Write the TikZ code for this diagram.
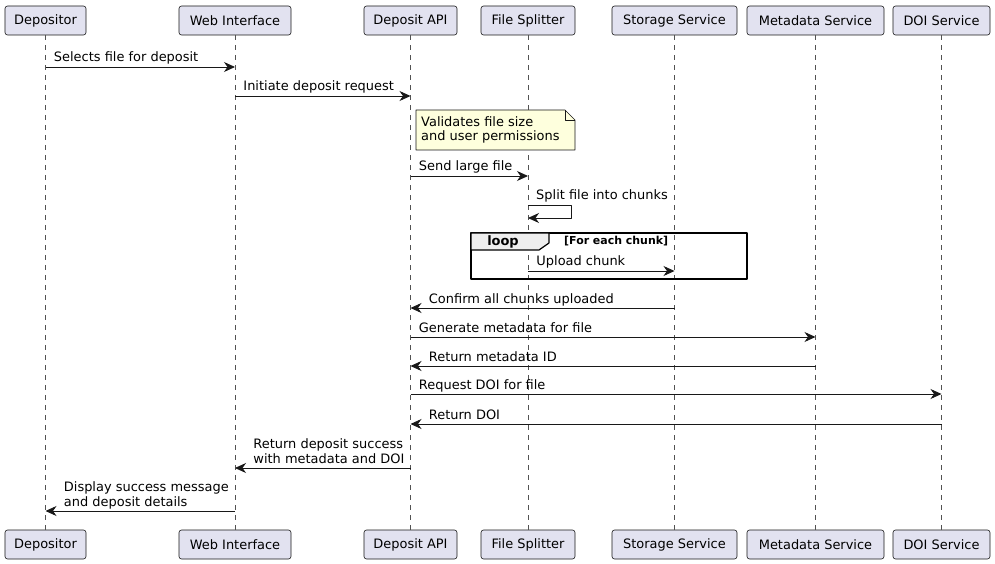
\documentclass[tikz,border=0pt]{standalone}
\usepackage{fontspec}
\setmainfont{DejaVu Sans}
\usetikzlibrary{arrows.meta,positioning}
\definecolor{partfill}{HTML}{E2E2F0}
\definecolor{linecol}{HTML}{181818}
\definecolor{notefill}{HTML}{FEFFDD}
\definecolor{tabfill}{HTML}{EEEEEE}
\tikzset{
  part/.style={draw=linecol, fill=partfill, rounded corners=2.5bp, line width=0.6bp, minimum height=29bp, inner sep=0pt, font=\fontsize{13}{15}\selectfont},
  life/.style={draw=linecol!75, dash pattern=on 5bp off 5bp, line width=0.45bp},
  msg/.style={draw=linecol, line width=0.9bp, -{Stealth[length=11bp,width=10bp,inset=3.5bp]}},
  lbl/.style={font=\fontsize{13}{15}\selectfont, inner sep=0pt, align=left},
  lblr/.style={lbl, anchor=base west, xshift=8bp, yshift=5bp},
  lbll/.style={lbl, anchor=base west, xshift=18bp, yshift=5bp}
}
\begin{document}
\begin{tikzpicture}[x=1bp, y=-1bp, line join=round]
  \useasboundingbox (0,0) rectangle (995,564);
  \node[part, minimum width=81bp] (dep) at (45.5,20.5) {Depositor};
  \node[part, minimum width=112bp] (web) at (235,20.5) {Web Interface};
  \node[part, minimum width=93bp] (api) at (410.5,20.5) {Deposit API};
  \node[part, minimum width=94bp] (spl) at (528,20.5) {File Splitter};
  \node[part, minimum width=125bp] (sto) at (674.5,20.5) {Storage Service};
  \node[part, minimum width=137bp] (met) at (815.5,20.5) {Metadata Service};
  \node[part, minimum width=97bp] (doi) at (941.5,20.5) {DOI Service};
  \node[part, minimum width=81bp] (depb) at (45.5,544.5) {Depositor};
  \node[part, minimum width=112bp] (webb) at (235,544.5) {Web Interface};
  \node[part, minimum width=93bp] (apib) at (410.5,544.5) {Deposit API};
  \node[part, minimum width=94bp] (splb) at (528,544.5) {File Splitter};
  \node[part, minimum width=125bp] (stob) at (674.5,544.5) {Storage Service};
  \node[part, minimum width=137bp] (metb) at (815.5,544.5) {Metadata Service};
  \node[part, minimum width=97bp] (doib) at (941.5,544.5) {DOI Service};
  \draw[life] (dep) -- (depb);
  \draw[life] (web) -- (webb);
  \draw[life] (api) -- (apib);
  \draw[life] (spl) -- (splb);
  \draw[life] (sto) -- (stob);
  \draw[life] (met) -- (metb);
  \draw[life] (doi) -- (doib);
  \draw[msg] (dep |- 0,67) -- (web |- 0,67) node[pos=0, lblr] {Selects file for deposit};
  \draw[msg] (web |- 0,96) -- (api |- 0,96) node[pos=0, lblr] {Initiate deposit request};
  \draw[draw=linecol, fill=notefill, line width=0.6bp] (416,110) -- (565,110) -- (575,120) -- (575,150) -- (416,150) -- cycle;
  \draw[draw=linecol, line width=0.6bp] (565,110) -- (565,120) -- (575,120);
  \node[lbl, anchor=north west] (note) at (421,116) {Validates file size\\and user permissions};
  \draw[msg] (api |- 0,176) -- (spl |- 0,176) node[pos=0, lblr] {Send large file};
  \draw[msg] (spl |- 0,205) -- ++(43,0) -- ++(0,13) -- (spl |- 0,218);
  \node[lbl, anchor=base west] (split) at (536,200) {Split file into chunks};
  \draw[line width=1.5bp] (471,233) rectangle (747,279);
  \draw[fill=tabfill, line width=1.2bp] (471,233) -- (549,233) -- (549,243) -- (539,250) -- (471,250) -- cycle;
  \node[font=\fontsize{13}{15}\bfseries, inner sep=0pt, anchor=base] (loop) at (503,246) {loop};
  \node[font=\fontsize{11}{13}\bfseries, inner sep=0pt, anchor=base west] (cond) at (564,245) {[For each chunk]};
  \draw[msg] (spl |- 0,271) -- (sto |- 0,271) node[pos=0, lblr] {Upload chunk};
  \draw[msg] (sto |- 0,308) -- (api |- 0,308) node[pos=1, lbll] {Confirm all chunks uploaded};
  \draw[msg] (api |- 0,337) -- (met |- 0,337) node[pos=0, lblr] {Generate metadata for file};
  \draw[msg] (met |- 0,366) -- (api |- 0,366) node[pos=1, lbll] {Return metadata ID};
  \draw[msg] (api |- 0,394) -- (doi |- 0,394) node[pos=0, lblr] {Request DOI for file};
  \draw[msg] (doi |- 0,424) -- (api |- 0,424) node[pos=1, lbll] {Return DOI};
  \draw[msg] (api |- 0,468) -- (web |- 0,468) node[pos=1, lbll] {Return deposit success\\with metadata and DOI};
  \draw[msg] (web |- 0,511) -- (dep |- 0,511) node[pos=1, lbll] {Display success message\\and deposit details};
\end{tikzpicture}
\end{document}
